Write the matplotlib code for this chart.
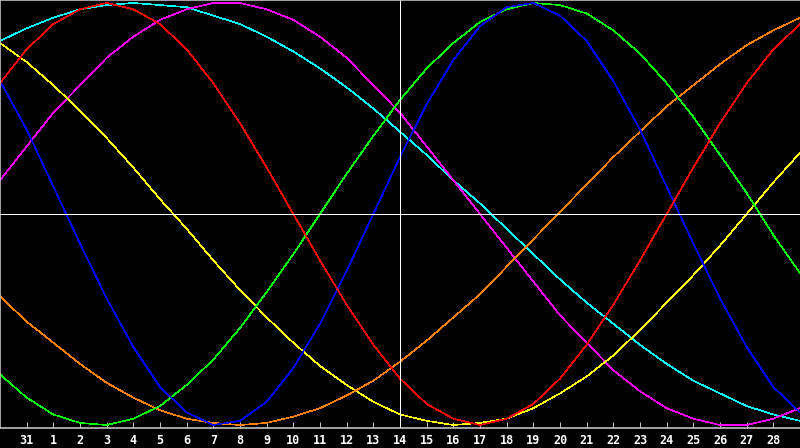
import matplotlib
matplotlib.use("Agg")
import matplotlib.pyplot as plt

# day positions: -1 is the left edge (the 30th), 0 is the 31st, 1..28 the new month, 29 the right edge
days = list(range(-1, 30))
tick_days = list(range(0, 29))
tick_labels = ["31"] + [str(n) for n in range(1, 29)]

# curve values, -1 = bottom, +1 = top, one per day
red = [0.62, 0.78, 0.90, 0.97, 1.00, 0.97, 0.90, 0.78, 0.62, 0.43, 0.22, 0.00, -0.22, -0.43, -0.62, -0.78,
       -0.90, -0.97, -1.00, -0.97, -0.90, -0.78, -0.62, -0.43, -0.22, 0.00, 0.22, 0.43, 0.62, 0.78, 0.90]
blue = [0.63, 0.40, 0.13, -0.14, -0.40, -0.63, -0.82, -0.94, -1.00, -0.98, -0.89, -0.73, -0.52, -0.27, 0.00, 0.27,
        0.52, 0.73, 0.89, 0.98, 1.00, 0.94, 0.82, 0.63, 0.40, 0.13, -0.14, -0.40, -0.63, -0.82, -0.94]
green = [-0.76, -0.87, -0.95, -0.99, -1.00, -0.97, -0.91, -0.81, -0.69, -0.54, -0.37, -0.19, 0.00, 0.19, 0.37, 0.54,
         0.69, 0.81, 0.91, 0.97, 1.00, 0.99, 0.95, 0.87, 0.76, 0.62, 0.46, 0.28, 0.10, -0.10, -0.28]
magenta = [0.16, 0.32, 0.48, 0.61, 0.74, 0.84, 0.92, 0.97, 1.00, 1.00, 0.97, 0.92, 0.84, 0.74, 0.61, 0.48,
           0.32, 0.16, 0.00, -0.16, -0.32, -0.48, -0.61, -0.74, -0.84, -0.92, -0.97, -1.00, -1.00, -0.97, -0.92]
yellow = [0.81, 0.72, 0.61, 0.49, 0.36, 0.22, 0.07, -0.07, -0.22, -0.36, -0.49, -0.61, -0.72, -0.81, -0.89, -0.95,
          -0.98, -1.00, -0.99, -0.97, -0.92, -0.85, -0.77, -0.67, -0.55, -0.42, -0.29, -0.15, 0.00, 0.15, 0.29]
orange = [-0.39, -0.51, -0.61, -0.71, -0.80, -0.87, -0.93, -0.97, -0.99, -1.00, -0.99, -0.96, -0.92, -0.86, -0.79, -0.70,
          -0.60, -0.49, -0.38, -0.25, -0.12, 0.01, 0.14, 0.27, 0.39, 0.51, 0.61, 0.71, 0.80, 0.87, 0.93]
cyan = [0.82, 0.88, 0.93, 0.97, 0.99, 1.00, 0.99, 0.98, 0.94, 0.90, 0.84, 0.77, 0.69, 0.60, 0.50, 0.39,
        0.28, 0.16, 0.05, -0.07, -0.19, -0.31, -0.42, -0.52, -0.62, -0.71, -0.79, -0.85, -0.91, -0.95, -0.98]

curves = [(cyan, "#00ffff"), (magenta, "#ff00ff"), (yellow, "#ffff00"), (orange, "#ff8000"),
          (green, "#00ff00"), (blue, "#0000ff"), (red, "#ff0000")]

px = 0.72  # one pixel in points at 100 dpi

fig = plt.figure(figsize=(8, 4.48), dpi=100, facecolor="black")
ax = fig.add_axes([0, 20 / 448, 1, 428 / 448])
ax.set_facecolor("black")

for vals, col in curves:
    ax.plot(days, vals, color=col, lw=0.45, antialiased=False)

# centre cross
ax.axhline(0, color="white", lw=px, antialiased=False)
ax.axvline(14, color="white", lw=px, antialiased=False)

ax.set_xlim(-1, 29)
ax.set_ylim(-1.014, 1.014)
ax.set_yticks([])
ax.set_xticks(tick_days)
ax.set_xticklabels(tick_labels, color="white", fontsize=8.5, fontweight="bold", family="DejaVu Sans Mono")
ax.tick_params(axis="x", direction="in", length=4.5, width=px, color="#c0c0c0", pad=4)

for side in ["left", "top", "bottom"]:
    ax.spines[side].set_color("#c0c0c0")
    ax.spines[side].set_linewidth(1.2)
ax.spines["right"].set_visible(False)

fig.savefig("out.png", dpi=100, facecolor="black")
